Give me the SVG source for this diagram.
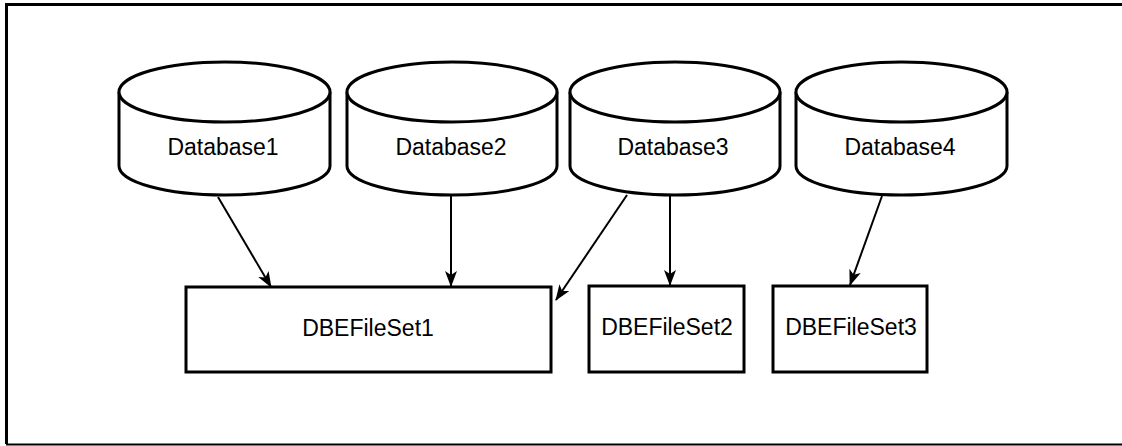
<svg xmlns="http://www.w3.org/2000/svg" width="1122" height="446" viewBox="0 0 1122 446">
<style>
.frame{fill:none;stroke:#000;stroke-width:3}
.shape{fill:#fff;stroke:#000;stroke-width:3}
.lbl{font-family:"Liberation Sans",Arial,sans-serif;font-size:23px;fill:#000;text-anchor:middle}
.conn{stroke:#000;stroke-width:2;fill:none;marker-end:url(#ah)}
</style>
<defs>
<marker id="ah" markerWidth="16" markerHeight="12" refX="15" refY="6" orient="auto" markerUnits="userSpaceOnUse">
<path d="M0,0 L16,6 L0,12 L4,6 Z" fill="#000"/>
</marker>
</defs>
<rect x="0" y="0" width="1122" height="446" fill="#fff"/>
<path class="frame" d="M1122,4.5 L6.5,4.5 L6.5,444"/>
<line x1="6" y1="444.5" x2="1122" y2="444.5" stroke="#000" stroke-width="2"/>
<g id="db1">
<path class="shape" d="M119,92 L119,166 A105.5,29 0 0 0 330,166 L330,92"/>
<ellipse class="shape" cx="224.5" cy="92" rx="105.5" ry="30"/>
<text class="lbl" x="223" y="155">Database1</text>
</g>
<g id="db2">
<path class="shape" d="M347,92 L347,166 A105,29 0 0 0 557,166 L557,92"/>
<ellipse class="shape" cx="452" cy="92" rx="105" ry="30"/>
<text class="lbl" x="451" y="155">Database2</text>
</g>
<g id="db3">
<path class="shape" d="M570,92 L570,166 A105,29 0 0 0 780,166 L780,92"/>
<ellipse class="shape" cx="675" cy="92" rx="105" ry="30"/>
<text class="lbl" x="673" y="155">Database3</text>
</g>
<g id="db4">
<path class="shape" d="M796,92 L796,166 A105.5,29 0 0 0 1007,166 L1007,92"/>
<ellipse class="shape" cx="901.5" cy="92" rx="105.5" ry="30"/>
<text class="lbl" x="900" y="155">Database4</text>
</g>
<g id="fs1">
<rect class="shape" x="186" y="287" width="365" height="85"/>
<text class="lbl" x="368" y="336">DBEFileSet1</text>
</g>
<g id="fs2">
<rect class="shape" x="589" y="286" width="155" height="86"/>
<text class="lbl" x="667" y="335">DBEFileSet2</text>
</g>
<g id="fs3">
<rect class="shape" x="773" y="286" width="154" height="86"/>
<text class="lbl" x="851" y="335">DBEFileSet3</text>
</g>
<g id="connectors">
<line class="conn" x1="218" y1="197" x2="271" y2="287"/>
<line class="conn" x1="451" y1="195" x2="451" y2="286"/>
<line class="conn" x1="627" y1="195" x2="556" y2="300"/>
<line class="conn" x1="670" y1="195" x2="670" y2="285"/>
<line class="conn" x1="882" y1="196" x2="850" y2="285"/>
</g>
</svg>
